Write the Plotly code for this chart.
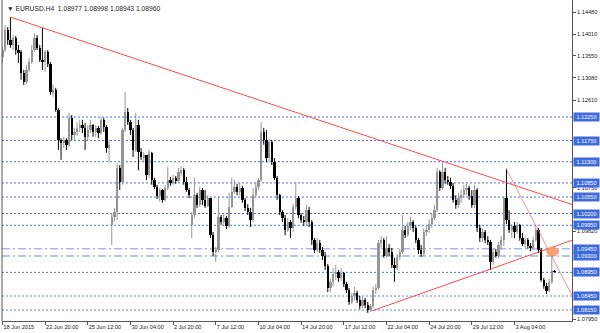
import plotly.graph_objects as go

# ---------------- data (EURUSD H4) ----------------
first_open = 1.1352
gap_opens = {41: 1.0996, 71: 1.0996}

closes = [
    1.1367, 1.1410, 1.1389, 1.1378, 1.1393, 1.1367, 1.1363, 1.1318, 1.1299, 1.1325,
    1.1342, 1.1367, 1.1393, 1.1372, 1.1346, 1.1342, 1.1363, 1.1338, 1.1278, 1.1282,
    1.1240, 1.1176, 1.1170, 1.1176, 1.1166, 1.1223, 1.1187, 1.1193, 1.1202, 1.1208,
    1.1202, 1.1183, 1.1197, 1.1208, 1.1193, 1.1202, 1.1191, 1.1219, 1.1204, 1.1159,
    1.1166, 1.1013, 1.1023, 1.1117, 1.1087, 1.1197, 1.1236, 1.1214, 1.1197, 1.1155,
    1.1208, 1.1151, 1.1140, 1.1144, 1.1102, 1.1149, 1.1091, 1.1077, 1.1057, 1.1070,
    1.1049, 1.1074, 1.1091, 1.1085, 1.1096, 1.1089, 1.1108, 1.1112, 1.1087, 1.1070,
    1.1059, 1.1017, 1.1059, 1.1038, 1.1070, 1.1049, 1.1036, 1.1053, 1.0974, 1.0938,
    1.0943, 1.1013, 1.1002, 1.1010, 1.0994, 1.1034, 1.1066, 1.1077, 1.1066, 1.1074,
    1.1049, 1.1032, 1.1023, 1.1006, 1.1059, 1.1077, 1.1091, 1.1193, 1.1176, 1.1138,
    1.1172, 1.1129, 1.1096, 1.1059, 1.1023, 1.1010, 1.0985, 1.1002, 1.0989, 1.1034,
    1.1053, 1.1017, 1.1006, 1.1002, 1.1027, 1.1002, 1.0964, 1.0943, 1.0957, 1.0943,
    1.0930, 1.0909, 1.0862, 1.0875, 1.0892, 1.0896, 1.0883, 1.0894, 1.0870, 1.0858,
    1.0832, 1.0845, 1.0851, 1.0836, 1.0824, 1.0836, 1.0826, 1.0815, 1.0824, 1.0858,
    1.0862, 1.0957, 1.0964, 1.0930, 1.0947, 1.0938, 1.0911, 1.0904, 1.0928, 1.0938,
    1.0985, 1.0974, 1.0994, 1.1002, 1.0989, 1.0964, 1.0943, 1.0934, 1.0981, 1.0985,
    1.0998, 1.1010, 1.1027, 1.1108, 1.1074, 1.1108, 1.1091, 1.1087, 1.1079, 1.1049,
    1.1038, 1.1053, 1.1059, 1.1070, 1.1074, 1.1057, 1.1038, 1.1070, 1.0989, 1.0968,
    1.0981, 1.0964, 1.0960, 1.0917, 1.0938, 1.0930, 1.0953, 1.0964, 1.1053, 1.1006,
    1.0985, 1.0994, 1.0981, 1.0996, 1.0968, 1.0955, 1.0964, 1.0951, 1.0947, 1.0964,
    1.0985, 1.0943, 1.0879, 1.0866, 1.0856, 1.0875, 1.08977, 1.08960,
]

highs = [
    1.1374, 1.1420, 1.1416, 1.1437, 1.1399, 1.1397, 1.1378, 1.1367, 1.1325, 1.1335,
    1.1350, 1.1378, 1.1403, 1.1399, 1.1378, 1.1414, 1.1367, 1.1367, 1.1342, 1.1293,
    1.1287, 1.1244, 1.1180, 1.1183, 1.1180, 1.1234, 1.1229, 1.1202, 1.1214, 1.1219,
    1.1219, 1.1212, 1.1208, 1.1219, 1.1210, 1.1208, 1.1206, 1.1225, 1.1223, 1.1208,
    1.1176, 1.1021, 1.1032, 1.1127, 1.1123, 1.1202, 1.1278, 1.1244, 1.1219, 1.1202,
    1.1234, 1.1219, 1.1159, 1.1151, 1.1144, 1.1155, 1.1151, 1.1096, 1.1081, 1.1074,
    1.1072, 1.1081, 1.1119, 1.1098, 1.1102, 1.1100, 1.1117, 1.1121, 1.1117, 1.1098,
    1.1074, 1.1023, 1.1096, 1.1064, 1.1077, 1.1074, 1.1070, 1.1059, 1.1053, 1.0981,
    1.0949, 1.1055, 1.1017, 1.1019, 1.1015, 1.1064, 1.1096, 1.1091, 1.1083, 1.1085,
    1.1079, 1.1053, 1.1040, 1.1032, 1.1074, 1.1087, 1.1096, 1.1214, 1.1202, 1.1197,
    1.1180, 1.1176, 1.1138, 1.1100, 1.1062, 1.1027, 1.1017, 1.1010, 1.1006, 1.1040,
    1.1087, 1.1057, 1.1021, 1.1015, 1.1038, 1.1034, 1.1006, 1.0968, 1.0968, 1.0964,
    1.0949, 1.0938, 1.0913, 1.0881, 1.0904, 1.0911, 1.0900, 1.0904, 1.0896, 1.0875,
    1.0862, 1.0851, 1.0864, 1.0856, 1.0845, 1.0843, 1.0841, 1.0832, 1.0828, 1.0864,
    1.0870, 1.0964, 1.0972, 1.0968, 1.0972, 1.0955, 1.0947, 1.0926, 1.0934, 1.0945,
    1.1017, 1.0994, 1.1002, 1.1013, 1.1006, 1.0994, 1.0968, 1.0953, 1.0989, 1.0994,
    1.1008, 1.1019, 1.1038, 1.1117, 1.1112, 1.1129, 1.1117, 1.1100, 1.1096, 1.1085,
    1.1059, 1.1064, 1.1070, 1.1081, 1.1085, 1.1079, 1.1070, 1.1081, 1.1074, 1.0996,
    1.0989, 1.0985, 1.0972, 1.0964, 1.0947, 1.0945, 1.0960, 1.0972, 1.1057, 1.1115,
    1.1027, 1.0998, 1.1002, 1.1002, 1.0998, 1.0979, 1.0970, 1.0968, 1.0957, 1.0970,
    1.0994, 1.0989, 1.0947, 1.0883, 1.0873, 1.0881, 1.0943, 1.08998,
]

lows = [
    1.1340, 1.1363, 1.1378, 1.1372, 1.1367, 1.1357, 1.1340, 1.1304, 1.1293, 1.1295,
    1.1321, 1.1338, 1.1363, 1.1367, 1.1342, 1.1325, 1.1321, 1.1331, 1.1272, 1.1268,
    1.1236, 1.1155, 1.1134, 1.1159, 1.1155, 1.1161, 1.1176, 1.1176, 1.1185, 1.1193,
    1.1191, 1.1155, 1.1176, 1.1191, 1.1183, 1.1183, 1.1180, 1.1187, 1.1193, 1.1149,
    1.1129, 1.0953, 1.1002, 1.1006, 1.1070, 1.1081, 1.1193, 1.1208, 1.1187, 1.1140,
    1.1151, 1.1112, 1.1134, 1.1129, 1.1091, 1.1096, 1.1081, 1.1072, 1.1051, 1.1045,
    1.1043, 1.1045, 1.1070, 1.1079, 1.1081, 1.1083, 1.1085, 1.1100, 1.1081, 1.1066,
    1.1053, 1.0968, 1.1010, 1.1032, 1.1034, 1.1038, 1.1032, 1.1034, 1.0968, 1.0930,
    1.0917, 1.0938, 1.0996, 1.0994, 1.0987, 1.0989, 1.1032, 1.1062, 1.1059, 1.1059,
    1.1043, 1.1025, 1.1017, 1.0991, 1.1002, 1.1053, 1.1070, 1.1087, 1.1166, 1.1129,
    1.1129, 1.1123, 1.1091, 1.1049, 1.1017, 1.1002, 1.0974, 1.0981, 1.0968, 1.0981,
    1.1027, 1.1010, 1.1000, 1.0994, 1.0996, 1.0991, 1.0953, 1.0936, 1.0938, 1.0936,
    1.0921, 1.0900, 1.0853, 1.0853, 1.0866, 1.0879, 1.0875, 1.0877, 1.0864, 1.0851,
    1.0826, 1.0828, 1.0836, 1.0830, 1.0817, 1.0819, 1.0819, 1.0809, 1.0811, 1.0819,
    1.0849, 1.0858, 1.0947, 1.0926, 1.0926, 1.0930, 1.0904, 1.0875, 1.0900, 1.0921,
    1.0934, 1.0968, 1.0970, 1.0985, 1.0981, 1.0957, 1.0934, 1.0928, 1.0930, 1.0972,
    1.0979, 1.0989, 1.1006, 1.1023, 1.1068, 1.1070, 1.1083, 1.1081, 1.1072, 1.1043,
    1.1030, 1.1032, 1.1043, 1.1053, 1.1059, 1.1049, 1.1032, 1.1032, 1.0981, 1.0960,
    1.0960, 1.0957, 1.0953, 1.0900, 1.0911, 1.0926, 1.0926, 1.0943, 1.0951, 1.0998,
    1.0979, 1.0968, 1.0968, 1.0977, 1.0962, 1.0951, 1.0947, 1.0945, 1.0940, 1.0943,
    1.0960, 1.0936, 1.0875, 1.0860, 1.0849, 1.0853, 1.0870, 1.08943,
]

tick_bars = [0, 16, 32, 48, 64, 80, 96, 112, 128, 144, 160, 176, 192]
tick_labels = ["18 Jun 2015", "22 Jun 20:00", "25 Jun 12:00", "30 Jun 04:00",
               "2 Jul 20:00", "7 Jul 12:00", "10 Jul 04:00", "14 Jul 20:00",
               "17 Jul 12:00", "22 Jul 04:00", "24 Jul 20:00", "29 Jul 12:00",
               "3 Aug 04:00"]

# price scale labels that are not hidden behind the level boxes
price_ticks = [1.14480, 1.14010, 1.13550, 1.13080, 1.12610,
               1.10750, 1.09820, 1.07950]

# horizontal levels: (price, style)
levels = [1.1225, 1.1175, 1.1130, 1.1085, 1.1055, 1.1020, 1.0995,
          1.0945, 1.0930, 1.0895, 1.0845, 1.0815]
level_styles = ["dot", "dot", "dot", "dot", "dot", "dot", "dot",
                "dashdot", "dashdot2", "dot", "dotlight", "dotlight"]

# trend lines: two anchor points (bar, price), extended to right edge
trend_upper = [(3.1, 1.1437), (165.0, 1.1131)]
trend_lower = [(138.5, 1.0813), (183.0, 1.0902)]
trend_steep = [(189.0, 1.1114), (207.0, 1.0918)]
ellipse_center = (206.3, 1.0939)
ellipse_half = (2.2, 0.00088)

header = "\u25BC EURUSD.H4  1.08977 1.08998 1.08943 1.08960"

# ---------------- build ----------------
n = len(closes)
opens = [first_open] + closes[:-1]
for k, v in gap_opens.items():
    opens[k] = v
idx = list(range(n))

UP = "#959595"
DN = "#000000"
up = [c >= o for o, c in zip(opens, closes)]
body_base = [min(o, c) for o, c in zip(opens, closes)]
body_h = [max(abs(c - o), 0.00005) for o, c in zip(opens, closes)]
body_col = [UP if u else DN for u in up]

wx_up, wy_up, wx_dn, wy_dn = [], [], [], []
for i in idx:
    h = max(highs[i], opens[i], closes[i])
    l = min(lows[i], opens[i], closes[i])
    if up[i]:
        wx_up += [i, i, None]; wy_up += [l, h, None]
    else:
        wx_dn += [i, i, None]; wy_dn += [l, h, None]

X_MIN, X_MAX = -0.15, 213.57
Y_MIN, Y_MAX = 1.07917, 1.14735

fig = go.Figure()
fig.add_trace(go.Scatter(x=wx_up, y=wy_up, mode="lines", line=dict(color=UP, width=1),
                         hoverinfo="skip", showlegend=False))
fig.add_trace(go.Scatter(x=wx_dn, y=wy_dn, mode="lines", line=dict(color=DN, width=1),
                         hoverinfo="skip", showlegend=False))
fig.add_trace(go.Bar(x=idx, y=body_h, base=body_base, width=0.9,
                     marker=dict(color=body_col, line=dict(width=0)),
                     showlegend=False, hoverinfo="skip"))

shapes = []
style_map = {
    "dot": dict(color="#4a6fdc", width=1, dash="2px,2px"),
    "dashdot": dict(color="#7b9be8", width=1, dash="8px,3px,2px,3px"),
    "dashdot2": dict(color="#b3c6f2", width=2, dash="8px,3px,2px,3px"),
    "dotlight": dict(color="#aebff0", width=2, dash="2px,2px"),
}
for lv, st in zip(levels, level_styles):
    shapes.append(dict(type="line", xref="paper", x0=0, x1=1, yref="y", y0=lv, y1=lv,
                       line=style_map[st], layer="below"))


def ray(p, col, w):
    (x0, y0), (x1, y1) = p
    slope = (y1 - y0) / (x1 - x0)
    return dict(type="line", xref="x", yref="y", x0=x0, y0=y0,
                x1=X_MAX, y1=y0 + slope * (X_MAX - x0), line=dict(color=col, width=w))


shapes.append(ray(trend_upper, "#ff4a4a", 1))
shapes.append(ray(trend_lower, "#ff4a4a", 1))
shapes.append(ray(trend_steep, "rgba(240,110,110,0.75)", 1))
cx, cy = ellipse_center
hx, hy = ellipse_half
shapes.append(dict(type="circle", xref="x", yref="y", x0=cx - hx, x1=cx + hx,
                   y0=cy - hy, y1=cy + hy, fillcolor="rgba(255,150,100,0.85)",
                   line=dict(color="#ff8c5a", width=1)))
# left frame
shapes.append(dict(type="line", xref="paper", yref="paper", x0=0, x1=0, y0=0, y1=1,
                   line=dict(color="#555555", width=1)))

FONT = "Liberation Sans, Arial, sans-serif"
annotations = []
for lv in levels:
    annotations.append(dict(x=1, xref="paper", y=lv, yref="y", xanchor="left", yanchor="middle",
                            xshift=1, text=f"{lv:.5f}", showarrow=False,
                            font=dict(family=FONT, size=5.6, color="white"),
                            bgcolor="#3d6ae0", width=25, height=8, borderpad=0, align="center"))
annotations.append(dict(x=0, xref="paper", y=1, yref="paper", xanchor="left", yanchor="top",
                        xshift=3, yshift=-3, text=header, showarrow=False,
                        font=dict(family=FONT, size=6.7, color="#222222")))

fig.update_layout(
    width=600, height=333,
    margin=dict(l=2, r=28, t=0, b=12),
    paper_bgcolor="white", plot_bgcolor="white",
    bargap=0, barmode="overlay",
    shapes=shapes, annotations=annotations,
    xaxis=dict(range=[X_MIN, X_MAX], tickvals=tick_bars, ticktext=tick_labels,
               ticks="outside", ticklen=3, tickcolor="#555555", showline=True,
               linecolor="#555555", linewidth=1, showgrid=False, zeroline=False,
               ticklabelposition="outside right",
               tickfont=dict(family=FONT, size=5.6, color="#222222")),
    yaxis=dict(range=[Y_MIN, Y_MAX], side="right", tickvals=price_ticks,
               ticktext=[f"{p:.5f}" for p in price_ticks],
               ticks="outside", ticklen=3, tickcolor="#555555", showline=True,
               linecolor="#555555", linewidth=1, showgrid=False, zeroline=False,
               tickfont=dict(family=FONT, size=5.6, color="#222222")),
)

fig.write_html("out.html")
